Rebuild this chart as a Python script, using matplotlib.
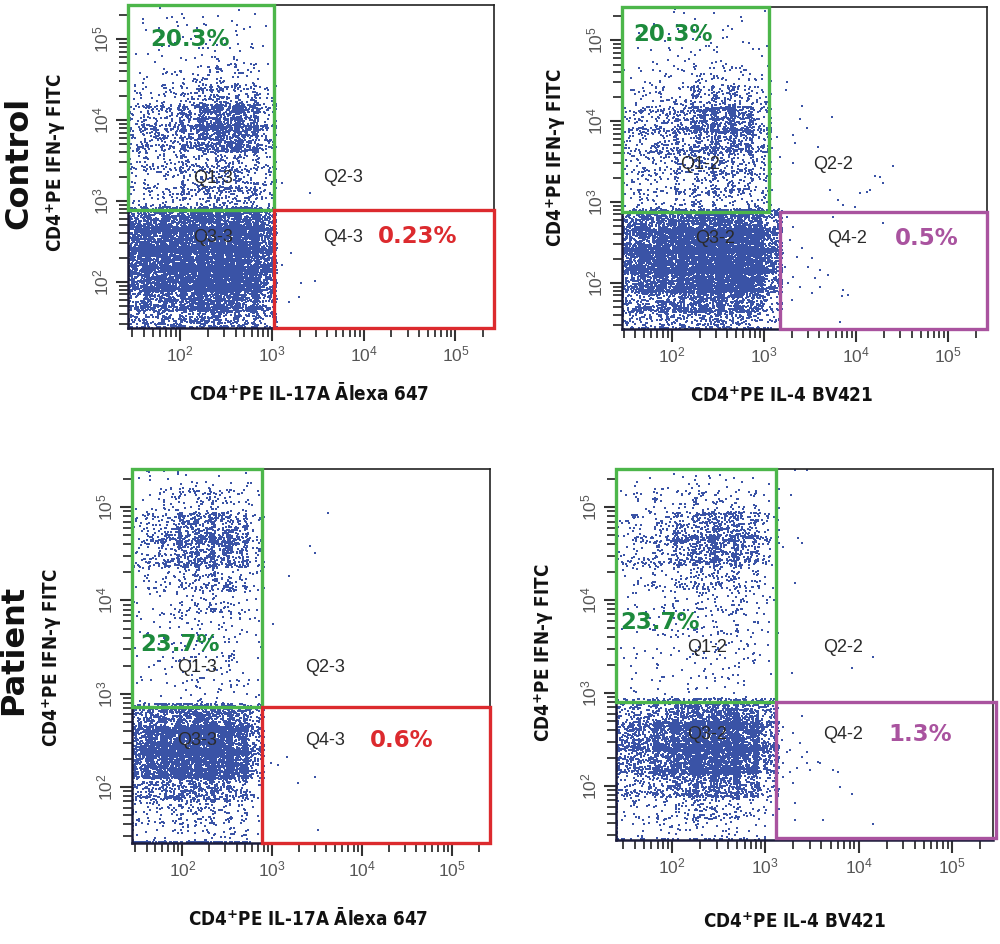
import os
import numpy as np
import matplotlib
matplotlib.use('Agg')
import matplotlib.pyplot as plt
from matplotlib.patches import Rectangle
from matplotlib.ticker import LogLocator, NullFormatter, LogFormatterSciNotation
import matplotlib.font_manager as fm

# ---------------------------------------------------------------- data
row_labels = ['Control', 'Patient']
y_axis_label = 'CD4$^{\\mathbf{+}}$PE IFN-γ FITC'
x_axis_labels = ['CD4$^{\\mathbf{+}}$PE IL-17A Ālexa 647', 'CD4$^{\\mathbf{+}}$PE IL-4 BV421',
                 'CD4$^{\\mathbf{+}}$PE IL-17A Ālexa 647', 'CD4$^{\\mathbf{+}}$PE IL-4 BV421']
quadrant_names = [['Q1-3', 'Q2-3', 'Q3-3', 'Q4-3'], ['Q1-2', 'Q2-2', 'Q3-2', 'Q4-2'],
                  ['Q1-3', 'Q2-3', 'Q3-3', 'Q4-3'], ['Q1-2', 'Q2-2', 'Q3-2', 'Q4-2']]
q1_percent = ['20.3%', '20.3%', '23.7%', '23.7%']
q4_percent = ['0.23%', '0.5%', '0.6%', '1.3%']

# gate thresholds (log10 fluorescence)
gate_x_q1 = [3.02, 3.058, 2.884, 3.115]      # right edge of Q1/Q3 gate
gate_x_q4 = [3.02, 3.177, 2.884, 3.115]      # left edge of Q4 gate
gate_y = [2.887, 2.874, 2.858, 2.904]        # IFN-γ threshold
# right edge of the Q3 event cloud (log10)
q3_cloud_x = [3.02, 3.17, 2.884, 3.115]

# event counts per cell: lower-left quadrant (6 rows bottom->top x 8 columns)
p1_q3 = [[50, 60, 85, 100, 115, 100, 85, 60],
         [110, 130, 160, 190, 240, 240, 190, 110],
         [200, 250, 280, 330, 400, 400, 350, 200],
         [250, 300, 330, 380, 400, 400, 380, 220],
         [220, 270, 300, 350, 380, 380, 350, 220],
         [140, 190, 210, 240, 260, 260, 240, 170]]
p2_q3 = [[45, 50, 62, 78, 95, 88, 65, 32],
         [80, 90, 125, 160, 200, 195, 135, 65],
         [170, 190, 270, 350, 400, 400, 320, 130],
         [250, 300, 380, 430, 450, 450, 400, 170],
         [220, 270, 350, 400, 430, 430, 380, 170],
         [140, 170, 210, 240, 260, 260, 240, 120]]
p3_q3 = [[7, 10, 14, 15, 17, 14, 10, 5],
         [14, 20, 25, 30, 34, 30, 20, 8],
         [55, 80, 90, 100, 100, 90, 65, 26],
         [200, 270, 320, 350, 350, 320, 250, 85],
         [200, 270, 350, 380, 380, 350, 270, 95],
         [95, 135, 170, 190, 205, 190, 140, 60]]
p4_q3 = [[7, 8, 12, 15, 17, 14, 8, 3],
         [14, 17, 25, 38, 48, 42, 25, 10],
         [45, 55, 90, 150, 180, 180, 135, 55],
         [100, 125, 210, 340, 400, 410, 350, 130],
         [135, 160, 240, 340, 380, 400, 340, 135],
         [65, 90, 130, 175, 210, 220, 185, 80]]

# event counts per cell: upper-left quadrant (10 rows bottom->top x 8 columns)
p1_q1 = [[15, 18, 22, 33, 45, 52, 45, 30],
         [15, 18, 22, 30, 42, 45, 42, 22],
         [22, 27, 30, 42, 52, 60, 52, 30],
         [38, 45, 48, 75, 140, 170, 140, 50],
         [38, 45, 55, 85, 160, 190, 160, 50],
         [15, 18, 22, 38, 60, 68, 52, 22],
         [4, 6, 8, 12, 18, 18, 15, 6],
         [3, 3, 4, 6, 8, 8, 6, 3],
         [2, 3, 3, 4, 4, 4, 4, 3],
         [1, 2, 3, 3, 3, 3, 3, 1]]
p2_q1 = [[15, 18, 22, 27, 30, 33, 38, 30],
         [15, 18, 21, 27, 33, 38, 38, 27],
         [21, 27, 30, 38, 45, 48, 45, 27],
         [30, 38, 42, 55, 90, 110, 100, 45],
         [27, 33, 48, 65, 120, 150, 130, 50],
         [12, 15, 21, 33, 52, 60, 52, 22],
         [4, 6, 9, 12, 18, 18, 15, 6],
         [2, 3, 3, 4, 6, 6, 4, 2],
         [1, 2, 3, 3, 3, 4, 3, 1],
         [1, 1, 2, 3, 2, 3, 2, 1]]
p3_q1 = [[3, 4, 4, 7, 9, 9, 6, 3],
         [3, 4, 4, 6, 9, 9, 6, 4],
         [3, 4, 6, 7, 9, 9, 7, 4],
         [4, 6, 7, 9, 12, 13, 10, 4],
         [6, 7, 10, 15, 21, 21, 15, 6],
         [12, 15, 21, 30, 38, 38, 27, 12],
         [22, 33, 55, 95, 120, 120, 90, 30],
         [21, 33, 60, 105, 120, 110, 80, 25],
         [7, 12, 21, 30, 33, 27, 18, 7],
         [3, 4, 6, 7, 7, 6, 4, 2]]
p4_q1 = [[3, 3, 4, 6, 7, 7, 6, 3],
         [3, 3, 4, 6, 9, 9, 7, 4],
         [3, 4, 6, 9, 10, 10, 9, 4],
         [4, 6, 7, 10, 15, 15, 12, 6],
         [6, 7, 10, 15, 22, 22, 18, 7],
         [12, 15, 21, 30, 42, 45, 33, 15],
         [21, 30, 45, 90, 120, 130, 100, 30],
         [15, 24, 40, 80, 110, 120, 90, 25],
         [6, 9, 15, 21, 24, 22, 15, 7],
         [3, 4, 6, 7, 9, 7, 6, 3]]

# events piled on the axis limits (off-scale events)
p1_top = [16, 16, 14, 14, 12, 12, 10, 5]
p2_top = [2, 2, 2, 2, 2, 2, 1, 1]
p3_top = [12, 12, 10, 10, 12, 12, 10, 2]
p4_top = [2, 2, 2, 2, 2, 2, 2, 1]
p1_bottom = [4, 4, 4, 4, 4, 4, 4, 2]
p2_bottom = [4, 4, 4, 4, 4, 4, 4, 2]
p3_bottom = [10, 10, 10, 12, 12, 12, 8, 3]
p4_bottom = [4, 4, 5, 6, 6, 6, 5, 2]
p1_left = [8, 8, 8, 8, 8, 8, 2, 2, 2, 2, 2, 2, 1, 1, 1, 1]
p2_left = [8, 8, 8, 8, 8, 8, 1, 1, 1, 1, 1, 1, 1, 1, 1, 1]
p3_left = [5, 5, 5, 5, 5, 5, 3, 3, 3, 3, 3, 3, 3, 3, 3, 3]
p4_left = [8, 8, 8, 8, 8, 8, 2, 2, 2, 2, 2, 2, 2, 2, 2, 2]

# individual events outside the main clouds (log10 x, log10 y)
p1_out_x = [3.11, 3.41, 3.21, 3.11, 3.32, 3.47, 3.29, 3.18]
p1_out_y = [3.22, 3.10, 2.36, 2.21, 1.99, 2.01, 1.81, 1.75]
p2_out_x = [3.25, 3.24, 3.41, 3.39, 3.74, 3.47, 3.31, 3.34, 3.59, 3.31, 4.40, 4.20, 4.26,
            4.29, 4.04, 4.12, 4.15, 3.72, 3.80, 3.99, 3.86, 3.14, 3.17, 3.07,
            3.25, 3.31, 3.28, 3.41, 3.36, 3.52, 3.48, 3.61, 3.55, 3.69, 3.31, 3.26, 3.39,
            3.52, 3.86, 3.91, 3.85, 3.82, 4.29, 3.75, 3.30, 3.61, 3.21, 3.23]
p2_out_y = [4.48, 4.38, 4.18, 4.03, 4.05, 3.91, 3.83, 3.73, 3.68, 3.48, 3.44, 3.32, 3.31,
            3.24, 3.11, 3.12, 3.15, 3.15, 3.02, 2.94, 2.96, 3.80, 3.55, 3.43,
            2.81, 2.69, 2.53, 2.43, 2.32, 2.31, 2.20, 2.16, 2.06, 2.10, 2.07, 2.00, 1.95,
            1.87, 1.91, 1.85, 1.84, 1.52, 2.74, 2.81, 1.79, 1.95, 2.37, 2.20]
p3_out_x = [3.62, 3.42, 3.48, 3.18, 3.01, 3.06, 3.16, 3.28, 3.48, 3.51, 2.98]
p3_out_y = [4.94, 4.58, 4.51, 4.26, 3.75, 2.24, 2.32, 2.04, 2.11, 1.54, 2.26]
p4_out_x = [3.32, 3.45, 3.28, 3.35, 3.39, 3.19, 3.32, 3.29, 3.93, 4.15, 3.14, 3.15,
            3.39, 3.19, 3.30, 3.37, 3.26, 3.39, 3.45, 3.59, 3.34, 3.48, 3.73, 3.78, 3.26,
            3.30, 3.80, 3.93, 3.32, 3.62, 3.32, 4.15, 3.18, 3.23, 3.19, 3.19, 3.45, 3.57]
p4_out_y = [5.40, 5.40, 5.13, 4.67, 4.61, 4.57, 4.18, 3.22, 3.27, 3.39, 4.86, 4.61,
            2.75, 2.64, 2.57, 2.46, 2.39, 2.31, 2.25, 2.25, 2.19, 2.17, 2.17, 2.15, 2.15,
            2.03, 1.99, 1.91, 1.82, 1.64, 1.64, 1.59, 2.50, 2.37, 2.25, 2.10, 2.37, 2.26]

# axis limits (log10)
x_limits = [(1.43, 5.42), (1.46, 5.42), (1.44, 5.42), (1.40, 5.44)]
y_limits = [(1.43, 5.42), (1.43, 5.41), (1.40, 5.41), (1.42, 5.41)]

# ---------------------------------------------------------------- style
dot_color = '#3a53a6'
green = '#4cb64a'
green_text = '#1d8a3c'
red = '#dc2a2e'
purple = '#a9539f'
q4_colors = [red, purple, red, purple]

axes_rects = [[0.128, 0.6525, 0.366, 0.3422],
              [0.622, 0.6515, 0.365, 0.3411],
              [0.132, 0.1070, 0.358, 0.3962],
              [0.616, 0.1102, 0.377, 0.3930]]
q1_pct_pos = [(0.169, 0.892), (0.140, 0.913), (0.134, 0.532), (0.117, 0.585)]
q4_pct_pos = [(0.790, 0.282), (0.836, 0.280), (0.754, 0.275), (0.806, 0.283)]
qname_pos = [[(0.232, 0.464), (0.587, 0.467), (0.232, 0.279), (0.587, 0.279)],
             [(0.214, 0.512), (0.578, 0.512), (0.255, 0.280), (0.616, 0.280)],
             [(0.182, 0.468), (0.539, 0.468), (0.182, 0.275), (0.539, 0.275)],
             [(0.241, 0.518), (0.602, 0.518), (0.241, 0.283), (0.602, 0.283)]]
ylab_pos = [(0.056, 1 - 163 / 944), (0.556, 1 - 158 / 944), (0.052, 1 - 658 / 944), (0.544, 1 - 653 / 944)]
xlab_pos = [(0.309, 1 - 393 / 944), (0.782, 1 - 396 / 944), (0.308, 1 - 918 / 944), (0.795, 1 - 922 / 944)]
rowlab_pos = [(0.019, 1 - 163 / 944), (0.014, 1 - 650 / 944)]

plt.rcParams['mathtext.fontset'] = 'custom'
plt.rcParams['mathtext.rm'] = 'Liberation Sans'
plt.rcParams['mathtext.it'] = 'Liberation Sans:italic'
plt.rcParams['mathtext.bf'] = 'DejaVu Sans:bold'
plt.rcParams['font.family'] = ['DejaVu Sans']

# condensed bold font for axis titles
cond_path = None
for f in fm.fontManager.ttflist:
    b = os.path.basename(f.fname).lower()
    if b in ('dejavusanscondensed-bold.ttf', 'liberationsansnarrow-bold.ttf'):
        cond_path = f.fname
        break
if cond_path:
    title_fp = fm.FontProperties(fname=cond_path, size=13.5)
else:
    title_fp = fm.FontProperties(family='DejaVu Sans', weight='bold', size=11.3)

panels = [
    dict(q3=p1_q3, q1=p1_q1, top=p1_top, bottom=p1_bottom, left=p1_left, ox=p1_out_x, oy=p1_out_y),
    dict(q3=p2_q3, q1=p2_q1, top=p2_top, bottom=p2_bottom, left=p2_left, ox=p2_out_x, oy=p2_out_y),
    dict(q3=p3_q3, q1=p3_q1, top=p3_top, bottom=p3_bottom, left=p3_left, ox=p3_out_x, oy=p3_out_y),
    dict(q3=p4_q3, q1=p4_q1, top=p4_top, bottom=p4_bottom, left=p4_left, ox=p4_out_x, oy=p4_out_y),
]

counter = [0]


def _hash(k, a, b):
    # deterministic scatter of events inside a cell (rendering only)
    return np.modf(np.abs(np.sin(k * a + b) * 43758.5453123))[0]


def spread(n):
    k = np.arange(counter[0], counter[0] + n, dtype=float) + 1.0
    counter[0] += n
    return _hash(k, 12.9898, 78.233), _hash(k, 39.3468, 11.135)


def cells_to_events(counts, x0, x1, y0, y1):
    counts = np.asarray(counts)
    nr, nc = counts.shape
    xe = np.linspace(x0, x1, nc + 1)
    ye = np.linspace(y0, y1, nr + 1)
    xs, ys = [], []
    for r in range(nr):
        for c in range(nc):
            u, v = spread(int(counts[r, c]))
            xs.append(xe[c] + (u * 1.3 - 0.15) * (xe[c + 1] - xe[c]))
            ys.append(ye[r] + (v * 1.3 - 0.15) * (ye[r + 1] - ye[r]))
    return np.concatenate(xs), np.concatenate(ys)


def edge_events(counts, a0, a1):
    counts = np.asarray(counts)
    e = np.linspace(a0, a1, len(counts) + 1)
    out = []
    for i, n in enumerate(counts):
        u, _ = spread(int(n))
        out.append(e[i] + u * (e[i + 1] - e[i]))
    return np.concatenate(out)


fig = plt.figure(figsize=(10, 9.44), dpi=100)

for i, p in enumerate(panels):
    ax = fig.add_axes(axes_rects[i])
    xmin, xmax = x_limits[i]
    ymin, ymax = y_limits[i]
    gx1, gx4, gy, cx = gate_x_q1[i], gate_x_q4[i], gate_y[i], q3_cloud_x[i]

    xa, ya = cells_to_events(p['q3'], xmin, cx, ymin, gy)
    xb, yb = cells_to_events(p['q1'], xmin, gx1, gy, ymax)
    xt = edge_events(p['top'], xmin, gx1)
    yt = np.full_like(xt, ymax - 0.012)
    xbo = edge_events(p['bottom'], xmin, cx)
    ybo = np.full_like(xbo, ymin + 0.012)
    left = p['left']
    yl = np.concatenate([edge_events(left[:6], ymin, gy), edge_events(left[6:], gy, ymax)])
    xl = np.full_like(yl, xmin + 0.012)
    lx = np.concatenate([xa, xb, xt, xbo, xl, np.asarray(p['ox'])])
    ly = np.concatenate([ya, yb, yt, ybo, yl, np.asarray(p['oy'])])

    ax.set_xscale('log')
    ax.set_yscale('log')
    ax.scatter(10 ** lx, 10 ** ly, s=4.5, marker='s', c=dot_color, linewidths=0, zorder=2)
    ax.set_xlim(10 ** xmin, 10 ** xmax)
    ax.set_ylim(10 ** ymin, 10 ** ymax)

    # gates
    ax.add_patch(Rectangle((10 ** xmin, 10 ** gy), 10 ** gx1 - 10 ** xmin, 10 ** ymax - 10 ** gy,
                           fill=False, ec=green, lw=2.4, clip_on=False, zorder=4))
    q4_right = 10 ** (xmax + 0.03) if i == 3 else 10 ** xmax
    q4_bottom = 10 ** (ymin + 0.02) if i == 3 else 10 ** ymin
    ax.add_patch(Rectangle((10 ** gx4, q4_bottom), q4_right - 10 ** gx4, 10 ** gy - q4_bottom,
                           fill=False, ec=q4_colors[i], lw=2.4, clip_on=False, zorder=4))

    # labels inside
    for name, pos in zip(quadrant_names[i], qname_pos[i]):
        ax.text(pos[0], pos[1], name, transform=ax.transAxes, ha='center', va='center',
                fontsize=13, family='Liberation Sans', color='#2a2a2a', zorder=5)
    ax.text(*q1_pct_pos[i], q1_percent[i], transform=ax.transAxes, ha='center', va='center',
            fontsize=16.5, fontweight='bold', color=green_text, zorder=6)
    ax.text(*q4_pct_pos[i], q4_percent[i], transform=ax.transAxes, ha='center', va='center',
            fontsize=16.5, fontweight='bold', color=q4_colors[i], zorder=6)

    # axes styling
    for s in ('left', 'bottom'):
        ax.spines[s].set_linewidth(1.8)
        ax.spines[s].set_color('#1c1c3a')
    for s in ('top', 'right'):
        ax.spines[s].set_linewidth(1.2)
        ax.spines[s].set_color('#222222')
    for axis in (ax.xaxis, ax.yaxis):
        axis.set_major_locator(LogLocator(base=10, numticks=10))
        axis.set_major_formatter(LogFormatterSciNotation())
        axis.set_minor_locator(LogLocator(base=10, subs=np.arange(2, 10), numticks=100))
        axis.set_minor_formatter(NullFormatter())
    ax.tick_params(which='major', direction='out', length=9, width=1.5, color='#333333',
                   labelsize=12.5, labelcolor='#555555', labelfontfamily='Liberation Sans', pad=3)
    ax.tick_params(which='minor', direction='out', length=6.5, width=1.3, color='#333333')
    ax.tick_params(axis='y', labelrotation=90)
    for t in ax.yaxis.get_major_ticks():
        t.label1.set_va('center')

    fig.text(*ylab_pos[i], y_axis_label, rotation=90, ha='center', va='center',
             fontproperties=title_fp, color='#111111')
    fig.text(*xlab_pos[i], x_axis_labels[i], ha='center', va='center',
             fontproperties=title_fp, color='#111111')

for lab, pos in zip(row_labels, rowlab_pos):
    fig.text(*pos, lab, rotation=90, ha='center', va='center', fontsize=23,
             fontweight='bold', color='#111111')

fig.savefig('out.png', dpi=100)
